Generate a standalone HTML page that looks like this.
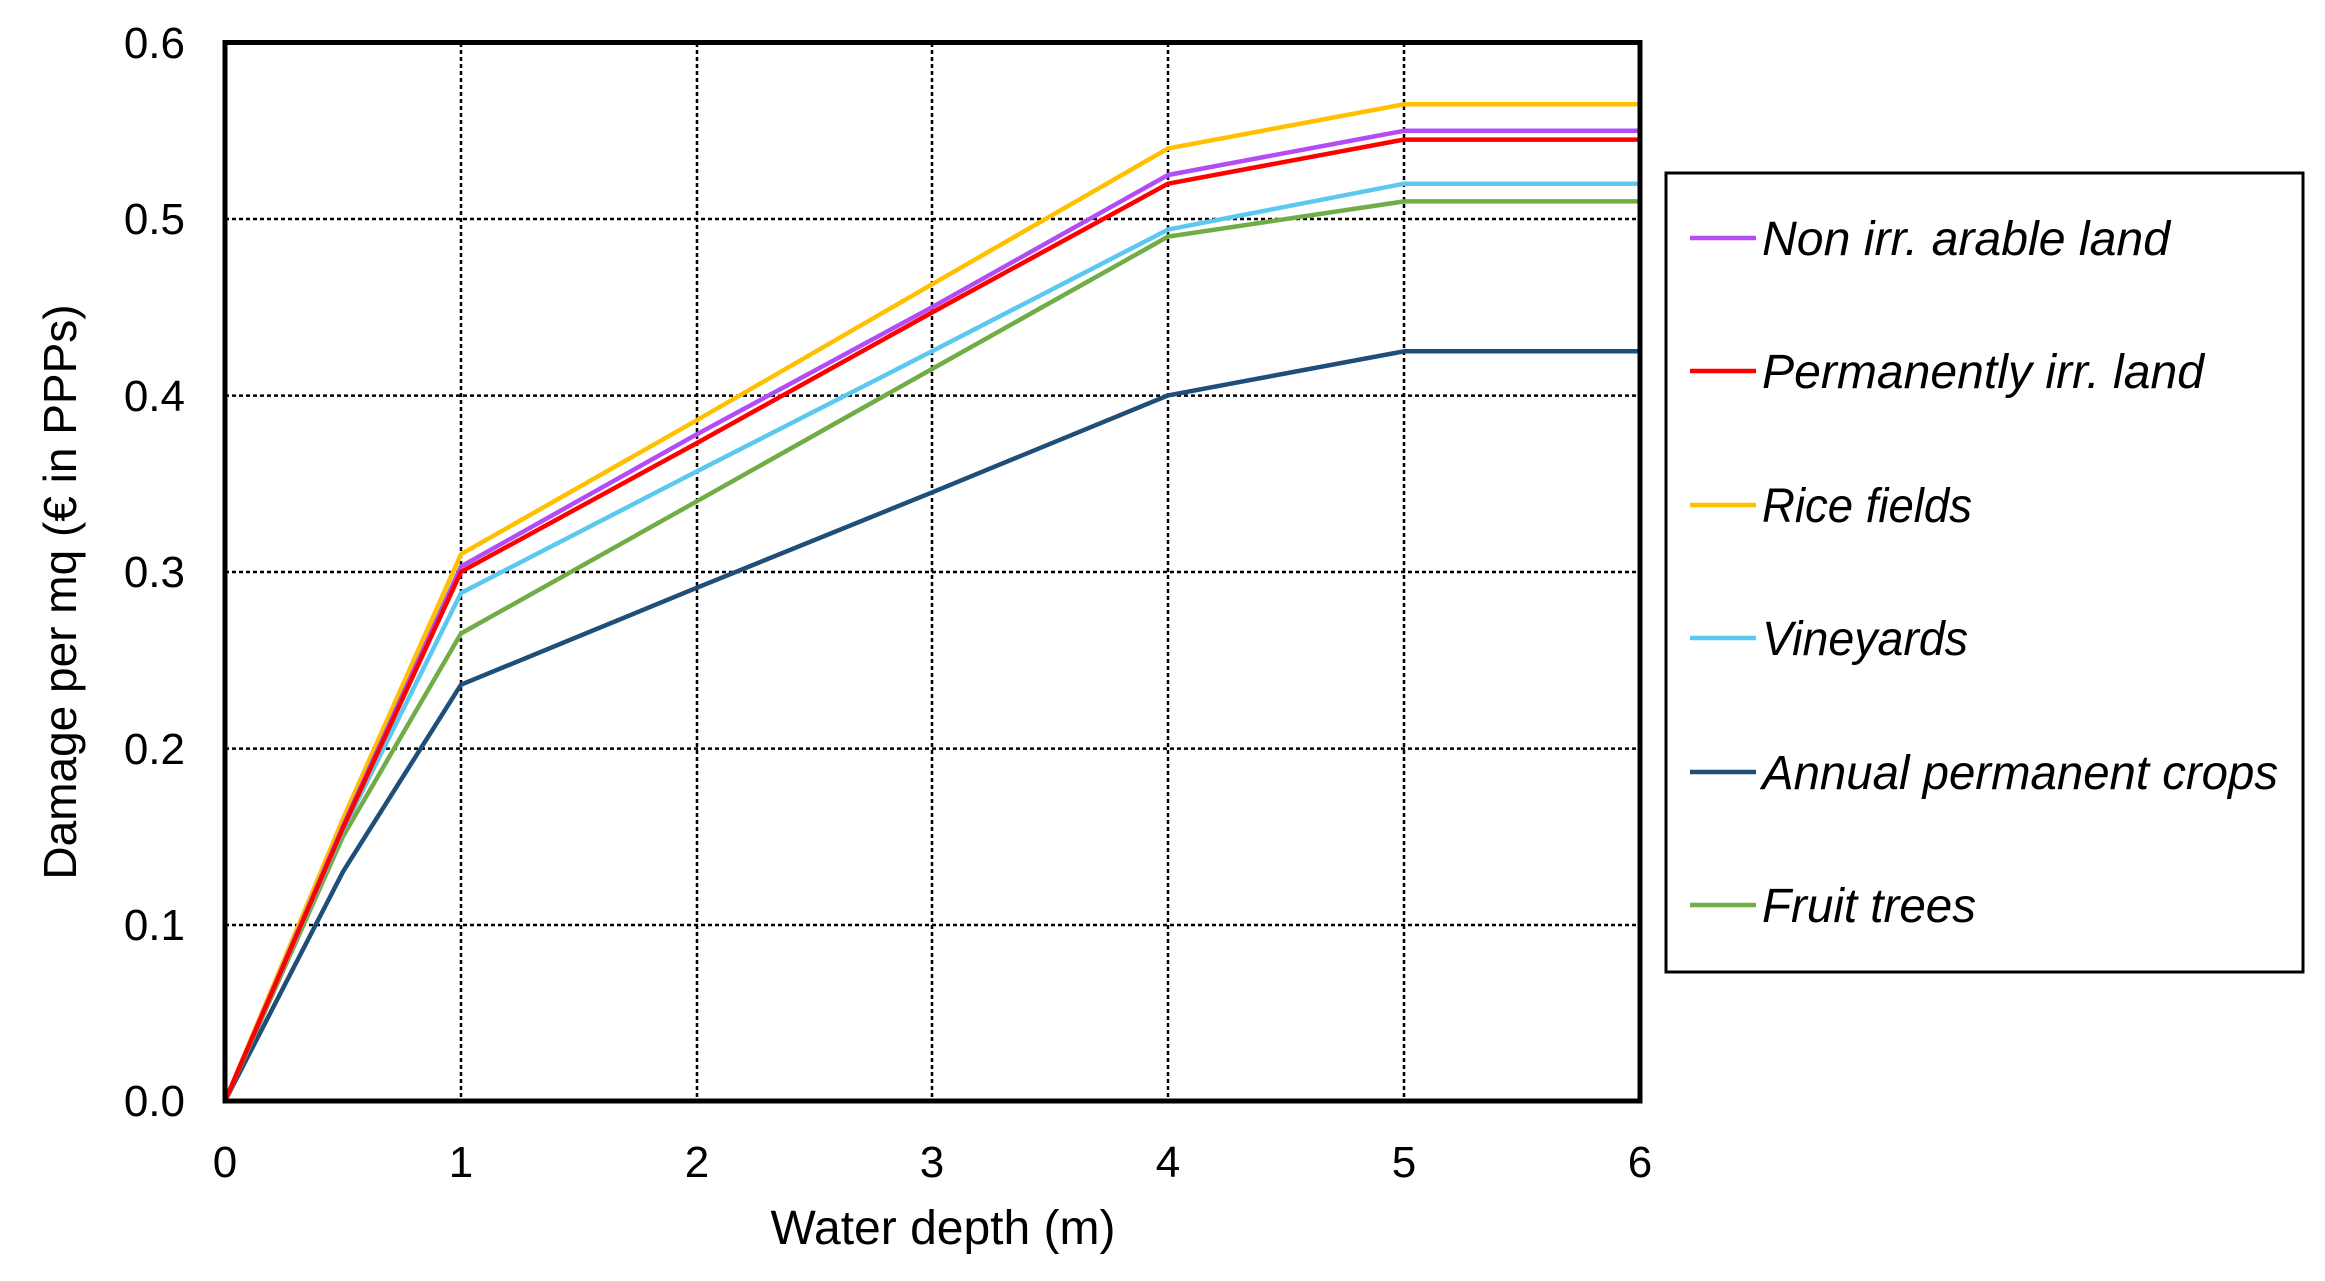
<!DOCTYPE html>
<html><head><meta charset="utf-8"><style>html,body{margin:0;padding:0;background:#fff}</style></head>
<body>
<svg width="2325" height="1276" viewBox="0 0 2325 1276" xmlns="http://www.w3.org/2000/svg" font-family="'Liberation Sans', sans-serif">
<rect width="2325" height="1276" fill="#fff"/>
<g stroke="#000" stroke-width="2.5" stroke-dasharray="4,3">
<line x1="461" y1="43" x2="461" y2="1101"/><line x1="697" y1="43" x2="697" y2="1101"/>
<line x1="932" y1="43" x2="932" y2="1101"/><line x1="1168" y1="43" x2="1168" y2="1101"/>
<line x1="1404" y1="43" x2="1404" y2="1101"/>
<line x1="225" y1="219" x2="1640" y2="219"/><line x1="225" y1="395.6" x2="1640" y2="395.6"/>
<line x1="225" y1="572" x2="1640" y2="572"/><line x1="225" y1="748.6" x2="1640" y2="748.6"/>
<line x1="225" y1="925" x2="1640" y2="925"/>
</g>
<g fill="none" stroke-width="4.5" stroke-linejoin="round">
<polyline stroke="#1f4e79" points="225,1101 343,871.7 461,684.7 697,587.7 932,492.4 1168,395.4 1404,351.3 1640,351.3"/>
<polyline stroke="#70ad47" points="225,1101 343,836.4 461,633.5 697,501.2 932,369 1168,236.6 1404,201.4 1640,201.4"/>
<polyline stroke="#5bc8f0" points="225,1101 343,830 461,593 697,471.3 932,351.3 1168,229.6 1404,183.7 1640,183.7"/>
<polyline stroke="#ffc000" points="225,1101 343,818.8 461,554.2 697,420.1 932,284.3 1168,148.4 1404,104.3 1640,104.3"/>
<polyline stroke="#b44cf5" points="225,1101 343,826 461,566.5 697,434.2 932,307.2 1168,175 1404,130.8 1640,130.8"/>
<polyline stroke="#ff0000" points="225,1101 343,828 461,571.8 697,443 932,312.5 1168,183.7 1404,139.6 1640,139.6"/>
</g>
<rect x="225" y="42.5" width="1415" height="1058.5" fill="none" stroke="#000" stroke-width="5"/>
<g font-size="44" text-anchor="end" fill="#000">
<text x="185" y="58">0.6</text><text x="185" y="234">0.5</text><text x="185" y="411">0.4</text>
<text x="185" y="587">0.3</text><text x="185" y="764">0.2</text><text x="185" y="940">0.1</text><text x="185" y="1116">0.0</text>
</g>
<g font-size="44" text-anchor="middle" fill="#000">
<text x="225" y="1177">0</text><text x="461" y="1177">1</text><text x="697" y="1177">2</text><text x="932" y="1177">3</text>
<text x="1168" y="1177">4</text><text x="1404" y="1177">5</text><text x="1640" y="1177">6</text>
<text x="943" y="1244" font-size="48">Water depth (m)</text>
<text transform="translate(76,592) rotate(-90)" font-size="46">Damage per mq (€ in PPPs)</text>
</g>
<rect x="1666" y="173" width="637" height="799" fill="#fff" stroke="#000" stroke-width="3"/>
<g stroke-width="4.5">
<line x1="1690" y1="238" x2="1756" y2="238" stroke="#b44cf5"/>
<line x1="1690" y1="371" x2="1756" y2="371" stroke="#ff0000"/>
<line x1="1690" y1="505" x2="1756" y2="505" stroke="#ffc000"/>
<line x1="1690" y1="638" x2="1756" y2="638" stroke="#5bc8f0"/>
<line x1="1690" y1="772" x2="1756" y2="772" stroke="#1f4e79"/>
<line x1="1690" y1="905" x2="1756" y2="905" stroke="#70ad47"/>
</g>
<g font-size="48" font-style="italic" fill="#000">
<text x="1762" y="255" textLength="408" lengthAdjust="spacingAndGlyphs">Non irr. arable land</text>
<text x="1762" y="388" textLength="442" lengthAdjust="spacingAndGlyphs">Permanently irr. land</text>
<text x="1762" y="522" textLength="210" lengthAdjust="spacingAndGlyphs">Rice fields</text>
<text x="1762" y="655" textLength="206" lengthAdjust="spacingAndGlyphs">Vineyards</text>
<text x="1762" y="789" textLength="516" lengthAdjust="spacingAndGlyphs">Annual permanent crops</text>
<text x="1762" y="922" textLength="214" lengthAdjust="spacingAndGlyphs">Fruit trees</text>
</g>
</svg>
</body></html>
